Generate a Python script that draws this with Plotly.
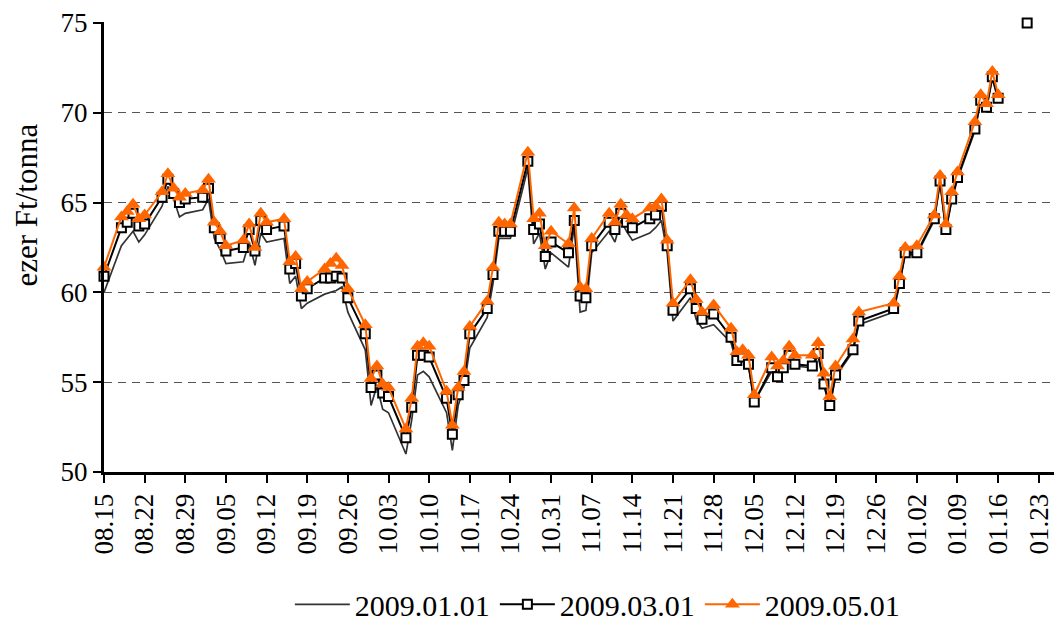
import plotly.graph_objects as go

dates = [
    "2008-08-15",
    "2008-08-18", "2008-08-19", "2008-08-20", "2008-08-21", "2008-08-22",
    "2008-08-25", "2008-08-26", "2008-08-27", "2008-08-28", "2008-08-29",
    "2008-09-01", "2008-09-02", "2008-09-03", "2008-09-04", "2008-09-05",
    "2008-09-08", "2008-09-09", "2008-09-10", "2008-09-11", "2008-09-12",
    "2008-09-15", "2008-09-16", "2008-09-17", "2008-09-18", "2008-09-19",
    "2008-09-22", "2008-09-23", "2008-09-24", "2008-09-25", "2008-09-26",
    "2008-09-29", "2008-09-30", "2008-10-01", "2008-10-02", "2008-10-03",
    "2008-10-06", "2008-10-07", "2008-10-08", "2008-10-09", "2008-10-10",
    "2008-10-13", "2008-10-14", "2008-10-15", "2008-10-16", "2008-10-17",
    "2008-10-20", "2008-10-21", "2008-10-22", "2008-10-23", "2008-10-24",
    "2008-10-27", "2008-10-28", "2008-10-29", "2008-10-30", "2008-10-31",
    "2008-11-03", "2008-11-04", "2008-11-05", "2008-11-06", "2008-11-07",
    "2008-11-10", "2008-11-11", "2008-11-12", "2008-11-13", "2008-11-14",
    "2008-11-17", "2008-11-18", "2008-11-19", "2008-11-20", "2008-11-21",
    "2008-11-24", "2008-11-25", "2008-11-26", "2008-11-28",
    "2008-12-01", "2008-12-02", "2008-12-03", "2008-12-04", "2008-12-05",
    "2008-12-08", "2008-12-09", "2008-12-10", "2008-12-11", "2008-12-12",
    "2008-12-15", "2008-12-16", "2008-12-17", "2008-12-18", "2008-12-19",
    "2008-12-22", "2008-12-23",
    "2008-12-29", "2008-12-30", "2008-12-31", "2009-01-02",
    "2009-01-05", "2009-01-06", "2009-01-07", "2009-01-08", "2009-01-09",
    "2009-01-12", "2009-01-13", "2009-01-14", "2009-01-15", "2009-01-16",
    "2009-01-19", "2009-01-21",
]

# 2009.01.01 contract (thin dark line)
s_jan = [
    60.0,
    62.6, 63.0, 63.4, 62.8, 63.2,
    64.8, 65.9, 65.2, 64.2, 64.4,
    64.6, 65.2, 63.0, 62.4, 61.6,
    61.7, 62.8, 61.5, 63.3, 62.8,
    63.0, 60.5, 60.9, 59.1, 59.4,
    59.9, 60.0, 60.1, 60.3, 58.9,
    56.8, 53.7, 54.8, 53.5, 53.3,
    51.0, 52.9, 55.4, 55.6, 55.3,
    53.3, 51.2, 53.7, 54.7, 56.9,
    58.6, 60.5, 63.0, 63.0, 63.0,
    66.9, 62.7, 63.3, 61.3, 62.2,
    61.4, 63.7, 58.9, 59.0, 62.2,
    63.4, 62.8, 64.0, 63.4, 62.9,
    63.3, 63.6, 64.0, 62.2, 58.4,
    59.7, 58.5, 58.0, 58.2,
    57.2, 56.0, 56.2, 55.9, 53.9,
    55.6, 55.1, 55.6, 56.3, 55.9,
    55.8, 56.5, 54.8, 53.6, 55.3,
    56.7, 58.2,
    58.9, 60.4, 62.1, 62.1,
    64.0, 66.1, 63.4, 65.1, 66.3,
    69.0, 70.6, 70.2, 71.9, 70.7,
    None, None,
]

# 2009.03.01 contract (squares)
s_mar = [
    60.9,
    63.6, 63.9, 64.4, 63.7, 63.8,
    65.3, 66.3, 65.5, 65.0, 65.2,
    65.3, 65.8, 63.6, 63.0, 62.3,
    62.5, 63.5, 62.3, 64.0, 63.5,
    63.7, 61.3, 61.6, 59.8, 60.2,
    60.8, 60.8, 60.9, 60.8, 59.7,
    57.7, 54.7, 55.4, 54.4, 54.2,
    51.9, 53.6, 56.5, 56.5, 56.4,
    54.1, 52.1, 54.3, 55.1, 57.7,
    59.1, 61.0, 63.4, 63.4, 63.4,
    67.3, 63.5, 63.8, 62.0, 62.8,
    62.2, 64.0, 59.8, 59.7, 62.6,
    63.9, 63.5, 64.4, 63.9, 63.6,
    64.1, 64.3, 64.8, 62.6, 59.0,
    60.2, 59.1, 58.5, 58.8,
    57.5, 56.2, 56.4, 56.0, 53.9,
    55.8, 55.3, 55.8, 56.5, 56.0,
    55.9, 56.6, 54.9, 53.7, 55.4,
    56.8, 58.4,
    59.1, 60.5, 62.2, 62.2,
    64.1, 66.2, 63.5, 65.2, 66.4,
    69.1, 70.7, 70.3, 72.0, 70.8,
    None, 75.0,
]

# 2009.05.01 contract (triangles)
s_may = [
    61.4,
    64.2, 64.5, 64.9, 64.1, 64.3,
    65.6, 66.6, 65.8, 65.3, 65.5,
    65.7, 66.3, 63.9, 63.4, 62.6,
    62.9, 63.8, 62.5, 64.4, 63.9,
    64.1, 61.7, 62.0, 60.2, 60.6,
    61.3, 61.6, 61.9, 61.5, 60.2,
    58.2, 55.2, 55.9, 54.9, 54.7,
    52.4, 54.1, 57.0, 57.2, 57.0,
    54.5, 52.6, 54.7, 55.6, 58.1,
    59.5, 61.4, 63.9, 63.8, 63.8,
    67.8, 64.1, 64.4, 62.6, 63.4,
    62.7, 64.7, 60.3, 60.2, 63.0,
    64.4, 63.9, 64.9, 64.3, 64.1,
    64.7, 64.8, 65.2, 62.9, 59.4,
    60.7, 59.6, 58.9, 59.3,
    58.0, 56.7, 56.8, 56.5, 54.3,
    56.4, 55.9, 56.2, 57.0, 56.5,
    56.5, 57.2, 55.5, 54.2, 55.9,
    57.4, 58.9,
    59.4, 60.9, 62.5, 62.6,
    64.3, 66.5, 63.8, 65.6, 66.7,
    69.5, 71.0, 70.5, 72.3, 71.0,
    None, None,
]

series_names = ["2009.01.01", "2009.03.01", "2009.05.01"]
y_ticks = [50, 55, 60, 65, 70, 75]
y_title = "ezer Ft/tonna"

FONT = "Liberation Serif"

fig = go.Figure()
fig.add_trace(go.Scatter(
    x=dates, y=s_jan, name=series_names[0], mode="lines",
    line=dict(color="#333333", width=1.7), connectgaps=False, cliponaxis=False,
))
fig.add_trace(go.Scatter(
    x=dates, y=s_mar, name=series_names[1], mode="lines+markers",
    line=dict(color="#000000", width=2),
    marker=dict(symbol="square", size=9, color="white",
                line=dict(color="black", width=2)),
    connectgaps=False, cliponaxis=False,
))
fig.add_trace(go.Scatter(
    x=dates, y=s_may, name=series_names[2], mode="lines+markers",
    line=dict(color="#FF6600", width=2),
    marker=dict(symbol="triangle-up", size=13, color="#FF6600",
                line=dict(width=0)),
    connectgaps=False, cliponaxis=False,
))

# page body has an 8px margin: figure sits at (8, 8) in the window
fig.update_layout(
    width=1054, height=625,
    margin=dict(l=96, r=0, t=12, b=161),
    paper_bgcolor="white", plot_bgcolor="white",
    font=dict(family=FONT, size=26, color="black"),
    showlegend=True,
    legend=dict(orientation="h", x=0.515, xanchor="center", y=-0.294,
                yanchor="middle", font=dict(family=FONT, size=30),
                itemwidth=55, tracegroupgap=0),
    annotations=[dict(
        text=y_title, textangle=-90, xref="paper", yref="paper",
        x=-0.081, y=0.593, xanchor="center", yanchor="middle",
        showarrow=False, font=dict(family=FONT, size=31),
    )],
)
fig.update_xaxes(
    type="date",
    range=["2008-08-15", "2009-01-27"],
    tick0="2008-08-15", dtick=7 * 86400000,
    tickformat="%m.%d", tickangle=-90,
    ticks="outside", ticklen=8, tickwidth=2, tickcolor="black",
    showline=True, linecolor="black", linewidth=3,
    showgrid=False, zeroline=False, ticklabeloverflow="allow",
    tickfont=dict(family=FONT, size=27),
)
fig.update_yaxes(
    range=[50, 75.05], tickvals=y_ticks,
    ticks="outside", ticklen=8, tickwidth=2, tickcolor="black",
    showline=True, linecolor="black", linewidth=3,
    showgrid=True, gridcolor="#555555", gridwidth=1, griddash="8px,6px",
    zeroline=False, ticklabeloverflow="allow",
    tickfont=dict(family=FONT, size=27),
)

fig.write_html("out.html")
